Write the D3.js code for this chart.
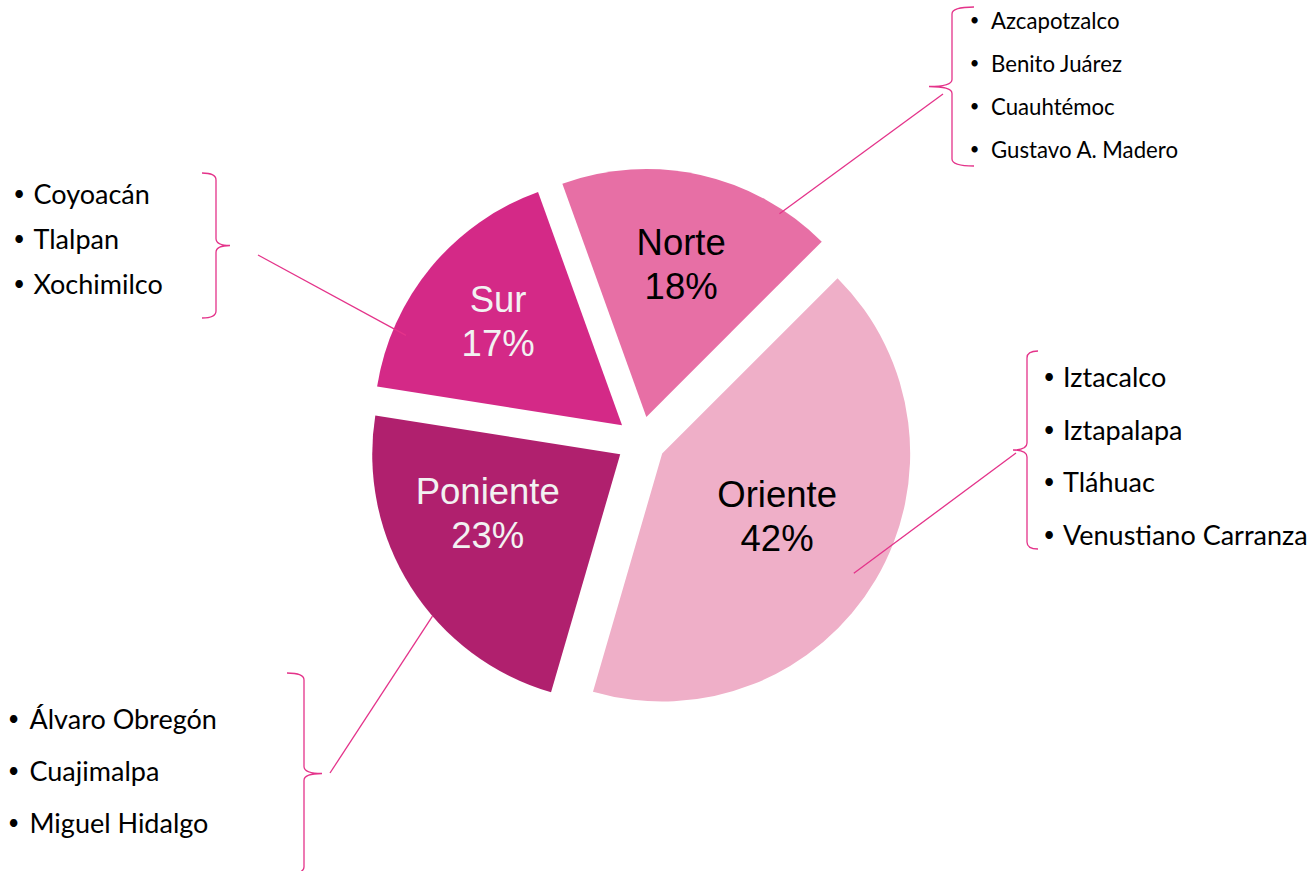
<!DOCTYPE html>
<html>
<head>
<meta charset="utf-8">
<script src="https://cdn.jsdelivr.net/npm/d3@7"></script>
<style>
  body { margin: 0; background: #fff; }
  .slice-label { font-family: "Liberation Sans", Arial, sans-serif; font-size: 36.5px; }
  .list { font-family: Lato, "Open Sans", sans-serif; fill: #000; }
</style>
</head>
<body>
<svg id="chart" width="1316" height="871"></svg>
<script>
// Regions of Mexico City and their share
const regions = ['Norte', 'Oriente', 'Poniente', 'Sur'];
const shares = [18, 42, 23, 17];
const sliceColors = ['#E76FA5', '#EFAFC8', '#B0206E', '#D42987'];
const labelColors = ['#000000', '#000000', '#F2F2F2', '#F2F2F2'];

// Alcaldías listed next to each region
const norteList = ['Azcapotzalco', 'Benito Juárez', 'Cuauhtémoc', 'Gustavo A. Madero'];
const orienteList = ['Iztacalco', 'Iztapalapa', 'Tláhuac', 'Venustiano Carranza'];
const ponienteList = ['Álvaro Obregón', 'Cuajimalpa', 'Miguel Hidalgo'];
const surList = ['Coyoacán', 'Tlalpan', 'Xochimilco'];

// pie geometry
const cx = 641, cy = 441;
const radius = 248;
const explode = 24.6;
const startDeg = -19.8;
const accent = '#E4338A';

// per slice: label position (angle deg / distance from the slice tip), leader start
const labelPos = [
    {deg: 12.8, dist: 157}, {deg: 118.7, dist: 131},
    {deg: 246, dist: 145}, {deg: 310.1, dist: 162}
];
const leaderStart = [
    {deg: 33.2, dist: 243}, {deg: 122, dist: 226},
    {deg: 229.2, dist: 248}, {deg: 292.6, dist: 234}
];
// annotation blocks: brace + list
const blocks = [
    {items: norteList, lineEnd: [943, 94], brace: {x: 952, y0: 7, y1: 166, tip: 22, point: 23, side: 'left'},
        bulletX: 974.5, textX: 991, baseline: 28.5, step: 43, size: 22.2},
    {items: orienteList, lineEnd: [1016, 453], brace: {x: 1027, y0: 351, y1: 549, tip: 11, point: 14, side: 'left'},
        bulletX: 1049, textX: 1063, baseline: 387, step: 52.5, size: 27},
    {items: ponienteList, lineEnd: [330, 773], brace: {x: 304, y0: 673, y1: 874, tip: 17, point: 18, side: 'right'},
        bulletX: 13.5, textX: 29.5, baseline: 728.5, step: 52.2, size: 27},
    {items: surList, lineEnd: [258, 255], brace: {x: 216, y0: 173, y1: 318, tip: 14, point: 14, side: 'right'},
        bulletX: 19, textX: 33.5, baseline: 203.5, step: 45, size: 27}
];

const rad = d => d * Math.PI / 180;
const polar = (deg, dist) => [dist * Math.sin(rad(deg)), -dist * Math.cos(rad(deg))];

const svg = d3.select('#chart');

const pie = d3.pie()
    .sort(null)
    .value(d => d)
    .startAngle(rad(startDeg))
    .endAngle(rad(startDeg) + 2 * Math.PI);

const arc = d3.arc().innerRadius(0).outerRadius(radius);

const arcs = pie(shares);

// slice tips (exploded)
const tips = arcs.map(a => {
    let mid = (a.startAngle + a.endAngle) / 2;
    return [cx + explode * Math.sin(mid), cy - explode * Math.cos(mid)];
});

const sliceGroup = svg.append('g');
sliceGroup.selectAll('path')
    .data(arcs)
    .join('path')
    .attr('transform', (d, i) => `translate(${tips[i][0]},${tips[i][1]})`)
    .attr('d', arc)
    .attr('fill', (d, i) => sliceColors[i]);

// leader lines
svg.append('g').selectAll('line')
    .data(arcs)
    .join('line')
    .attr('x1', (d, i) => tips[i][0] + polar(leaderStart[i].deg, leaderStart[i].dist)[0])
    .attr('y1', (d, i) => tips[i][1] + polar(leaderStart[i].deg, leaderStart[i].dist)[1])
    .attr('x2', (d, i) => blocks[i].lineEnd[0])
    .attr('y2', (d, i) => blocks[i].lineEnd[1])
    .attr('stroke', accent)
    .attr('stroke-width', 1.3);

// slice labels
const labels = svg.append('g').selectAll('text')
    .data(arcs)
    .join('text')
    .classed('slice-label', true)
    .attr('text-anchor', 'middle')
    .attr('fill', (d, i) => labelColors[i])
    .attr('transform', (d, i) => {
        let p = polar(labelPos[i].deg, labelPos[i].dist);
        return `translate(${tips[i][0] + p[0]},${tips[i][1] + p[1]})`;
    });
labels.append('tspan').attr('x', 0).attr('y', -9).text((d, i) => regions[i]);
labels.append('tspan').attr('x', 0).attr('y', 35).text(d => d.data + '%');

// curly brace path
function bracePath(b) {
    let s = b.side === 'left' ? 1 : -1;
    let x = b.x, xt = b.x + s * b.tip, xp = b.x - s * b.point;
    let ym = (b.y0 + b.y1) / 2;
    let c = 7;
    return `M${xt},${b.y0} Q${x},${b.y0} ${x},${b.y0 + c} L${x},${ym - c} ` +
        `Q${x},${ym} ${xp},${ym} Q${x},${ym} ${x},${ym + c} ` +
        `L${x},${b.y1 - c} Q${x},${b.y1} ${xt},${b.y1}`;
}

blocks.forEach(b => {
    let g = svg.append('g');
    g.append('path')
        .attr('d', bracePath(b.brace))
        .attr('fill', 'none')
        .attr('stroke', accent)
        .attr('stroke-width', 1.3);

    g.selectAll('text.bullet')
        .data(b.items)
        .join('text')
        .classed('list bullet', true)
        .attr('x', b.bulletX)
        .attr('y', (d, i) => b.baseline + i * b.step - 0.1 * b.size)
        .attr('text-anchor', 'middle')
        .style('font-size', (0.75 * b.size) + 'px')
        .text('•');

    g.selectAll('text.item')
        .data(b.items)
        .join('text')
        .classed('list item', true)
        .attr('x', b.textX)
        .attr('y', (d, i) => b.baseline + i * b.step)
        .style('font-size', b.size + 'px')
        .text(d => d);
});
</script>
</body>
</html>
